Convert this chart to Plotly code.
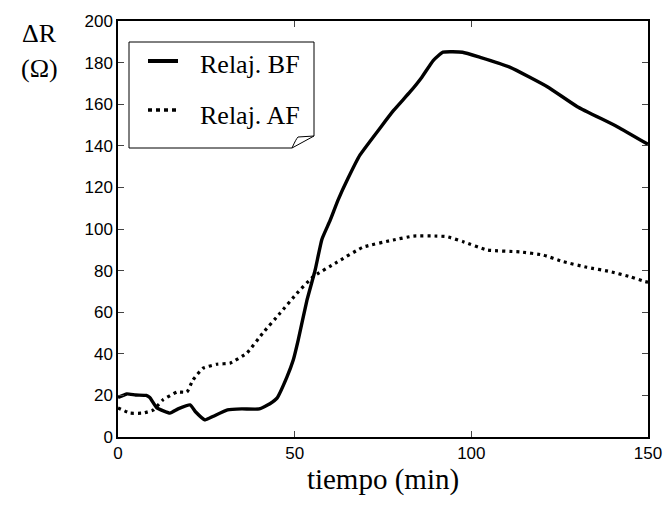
import plotly.graph_objects as go

# Data
t_bf = [0, 2.5, 5, 8, 9, 11, 14.7, 17, 20.4, 22, 24.6, 27, 31, 35, 40, 43, 45, 47.8, 49.6, 51,
        53.5, 55.8, 57.7, 60, 62.3, 65, 68.5, 74.2, 78, 82.7, 86, 89.2, 92, 97.5, 102.5, 111,
        121.5, 130, 141.3, 150]
r_bf = [19, 20.7, 20.2, 20, 19, 14, 11.5, 13.5, 15.4, 12, 8.2, 10, 13, 13.5, 13.5, 16, 18.7, 28.8, 37, 46.6,
        65.9, 80.3, 95, 104, 114, 124, 135.6, 148.6, 157, 166, 173, 181, 185, 185, 182.5, 177.7,
        168.4, 158.8, 149.2, 140.7]

t_af = [0, 3.4, 7, 10, 12.7, 16.7, 19.5, 21.2, 24, 28, 31.7, 36.5, 41, 45.9, 50.6, 55.2, 61.9,
        69.4, 77.9, 83.6, 90.3, 93.1, 97.7, 104.5, 113.8, 120.3, 126, 132.7, 139.3, 145, 149.2, 150]
r_af = [14, 11.5, 11.5, 13, 17.8, 21.6, 21.6, 27.4, 33, 35, 35.5, 40.4, 50, 59.6, 69, 77, 84,
        91.3, 94.7, 96.6, 96.6, 96.3, 93.9, 89.9, 89, 87.5, 84.3, 81.6, 79.5, 77, 74.7, 74.5]

series_names = ["Relaj. BF", "Relaj. AF"]
x_ticks = [0, 50, 100, 150]
y_ticks = [0, 20, 40, 60, 80, 100, 120, 140, 160, 180, 200]

W, H = 664, 507
L, R, T, B = 118, 16, 21, 70
pw, ph = W - L - R, H - T - B

def px(x):
    return (x - L) / pw

def py(y):
    return (H - B - y) / ph

SERIF = "Liberation Serif, Times New Roman, serif"
SANS = "Liberation Sans, Arial, sans-serif"

fig = go.Figure()
fig.add_trace(go.Scatter(x=t_bf, y=r_bf, mode="lines", name=series_names[0],
                         line=dict(color="black", width=3.4, shape="spline", smoothing=0.4)))
fig.add_trace(go.Scatter(x=t_af, y=r_af, mode="lines", name=series_names[1],
                         line=dict(color="black", width=3.2, dash="3px,4px", shape="spline", smoothing=0.4)))

# legend box with folded corner
x0, x1, y0, y1 = 129, 314, 42, 148
fx, fy = 292, 136
path = (f"M {px(x0)},{py(y0)} L {px(x1)},{py(y0)} L {px(x1)},{py(fy)} L {px(fx)},{py(y1)} "
        f"L {px(x0)},{py(y1)} Z")
fold = f"M {px(fx)},{py(y1)} Q {px(296)},{py(139)} {px(298)},{py(137)} L {px(x1)},{py(fy)}"
fig.add_shape(type="path", xref="paper", yref="paper", path=path,
              line=dict(color="black", width=1), fillcolor="white", layer="above")
fig.add_shape(type="path", xref="paper", yref="paper", path=fold,
              line=dict(color="black", width=1), layer="above")
# legend samples
fig.add_shape(type="line", xref="paper", yref="paper", x0=px(148), x1=px(178), y0=py(61), y1=py(61),
              line=dict(color="black", width=4), layer="above")
fig.add_shape(type="line", xref="paper", yref="paper", x0=px(148), x1=px(178), y0=py(110), y1=py(110),
              line=dict(color="black", width=3.4, dash="4px,4px"), layer="above")

annotations = [
    dict(text="ΔR", xref="paper", yref="paper", x=px(39), y=py(33), showarrow=False,
         xanchor="center", yanchor="middle", font=dict(family=SERIF, size=26, color="black")),
    dict(text="(Ω)", xref="paper", yref="paper", x=px(39), y=py(68), showarrow=False,
         xanchor="center", yanchor="middle", font=dict(family=SERIF, size=26, color="black")),
    dict(text=series_names[0], xref="paper", yref="paper", x=px(198), y=py(65), showarrow=False,
         xanchor="left", yanchor="middle", font=dict(family=SERIF, size=26, color="black")),
    dict(text=series_names[1], xref="paper", yref="paper", x=px(198), y=py(116), showarrow=False,
         xanchor="left", yanchor="middle", font=dict(family=SERIF, size=26, color="black")),
]

fig.update_layout(
    width=W, height=H,
    margin=dict(l=L, r=R, t=T, b=B),
    paper_bgcolor="white", plot_bgcolor="white",
    showlegend=False,
    xaxis=dict(range=[0, 150], tickvals=x_ticks, ticks="inside", ticklen=6, tickwidth=1,
               showline=True, linecolor="black", linewidth=1.5, mirror="ticks",
               showgrid=False, zeroline=False, automargin=False,
               tickfont=dict(family=SANS, size=17, color="black"),
               title=dict(text="tiempo (min)", standoff=4,
                          font=dict(family=SERIF, size=29, color="black"))),
    yaxis=dict(range=[0, 200], tickvals=y_ticks, ticks="inside", ticklen=6, tickwidth=1,
               showline=True, linecolor="black", linewidth=1.5, mirror="ticks",
               showgrid=False, zeroline=False, automargin=False,
               tickfont=dict(family=SANS, size=17, color="black")),
    annotations=annotations,
)

fig.write_html("out.html")
